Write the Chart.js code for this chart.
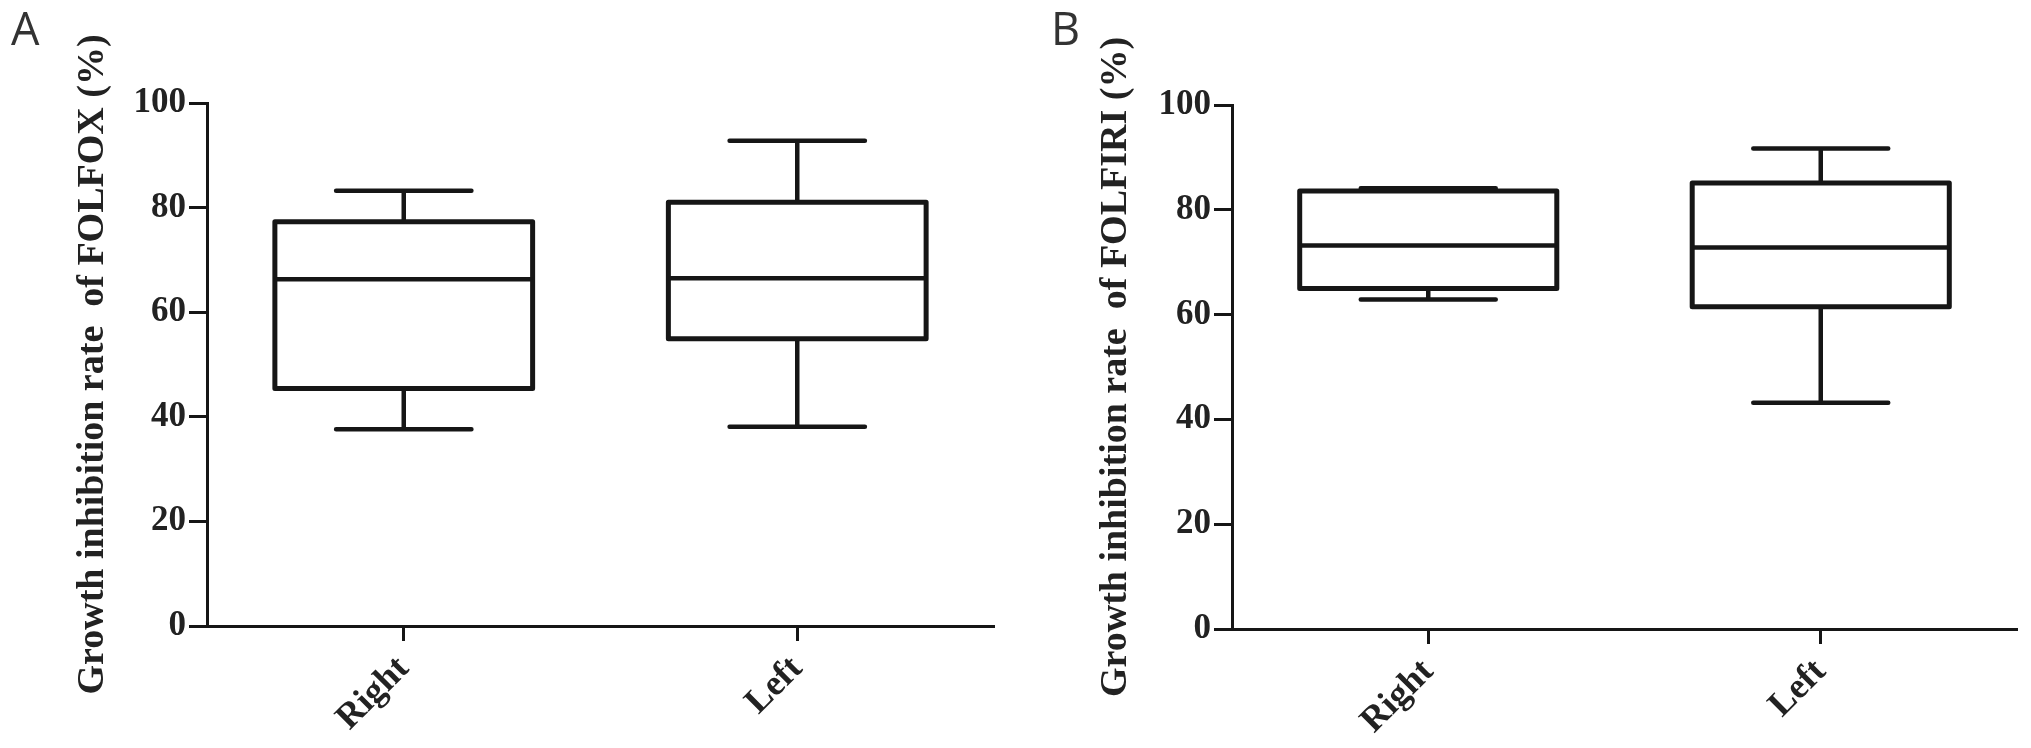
<!DOCTYPE html>
<html>
<head>
<meta charset="utf-8">
<script src="https://cdn.jsdelivr.net/npm/chart.js@4.4.1/dist/chart.umd.min.js"></script>
<style>
   html, body { margin: 0; padding: 0; background: #fff; }
   body { width: 2031px; height: 748px; position: relative; overflow: hidden; }
   .panel { position: absolute; top: 0; height: 748px; }
   .letter { position: absolute; top: 5px; font: 400 45px 'Open Sans', sans-serif; line-height: 45px; color: #333; }
</style>
</head>
<body>
<div class="panel" style="left:0;width:1010px"><canvas id="chartA"></canvas></div>
<div class="panel" style="left:1016px;width:1015px"><canvas id="chartB"></canvas></div>
<div class="letter" style="left:11px">A</div>
<div class="letter" style="left:1051px">B</div>
<script>
const categories = ['Right', 'Left']
const yTicks = [0, 20, 40, 60, 80, 100]

// FOLFOX (panel A)
const folfoxMin = [37.6, 38.1]
const folfoxQ1 = [45.4, 54.9]
const folfoxMedian = [66.3, 66.5]
const folfoxQ3 = [77.3, 81.0]
const folfoxMax = [83.2, 92.8]

// FOLFIRI (panel B)
const folfiriMin = [62.9, 43.2]
const folfiriQ1 = [65.0, 61.5]
const folfiriMedian = [73.2, 72.8]
const folfiriQ3 = [83.6, 85.1]
const folfiriMax = [84.1, 91.7]

const ink = '#161616'
const serif = "'Liberation Serif', 'Times New Roman', serif"

// draws box outline, median, whiskers and caps over the floating bars
const boxPlot = {
   id: 'boxPlot',
   afterDatasetsDraw: (chart, args, opts) => {
      const { ctx } = chart
      const y = chart.scales.y
      const meta = chart.getDatasetMeta(0)
      ctx.save()
      ctx.strokeStyle = ink
      meta.data.forEach((bar, i) => {
         const half = bar.width / 2
         const capHalf = half * opts.cap
         const yMin = y.getPixelForValue(opts.min[i])
         const yQ1 = y.getPixelForValue(opts.q1[i])
         const yMed = y.getPixelForValue(opts.median[i])
         const yQ3 = y.getPixelForValue(opts.q3[i])
         const yMax = y.getPixelForValue(opts.max[i])

         ctx.lineCap = 'round'
         ctx.lineWidth = 4.5
         ctx.beginPath()
         ctx.moveTo(bar.x, yQ3)
         ctx.lineTo(bar.x, yMax)
         ctx.moveTo(bar.x - capHalf, yMax)
         ctx.lineTo(bar.x + capHalf, yMax)
         ctx.moveTo(bar.x, yQ1)
         ctx.lineTo(bar.x, yMin)
         ctx.moveTo(bar.x - capHalf, yMin)
         ctx.lineTo(bar.x + capHalf, yMin)
         ctx.stroke()

         ctx.fillStyle = '#fff'
         ctx.fillRect(bar.x - half, yQ3, bar.width, yQ1 - yQ3)
         ctx.lineJoin = 'round'
         ctx.lineWidth = 5
         ctx.strokeRect(bar.x - half, yQ3, bar.width, yQ1 - yQ3)

         ctx.lineWidth = 4.5
         ctx.lineCap = 'butt'
         ctx.beginPath()
         ctx.moveTo(bar.x - half, yMed)
         ctx.lineTo(bar.x + half, yMed)
         ctx.stroke()
      })
      ctx.restore()
   }
}

const makeBox = (element, title, stats, frame) => {
   const ctx = document.getElementById(element).getContext('2d')
   return new Chart(ctx, {
      type: 'bar',
      data: {
         labels: categories,
         datasets: [{
            data: stats.q1.map((v, i) => [v, stats.q3[i]]),
            backgroundColor: 'rgba(0,0,0,0)',
            borderWidth: 0,
            barPercentage: 0.655,
            categoryPercentage: 1
         }]
      },
      options: {
         responsive: true,
         maintainAspectRatio: false,
         animation: false,
         layout: { padding: { top: frame.top, right: frame.right, left: 0, bottom: 0 } },
         plugins: {
            legend: { display: false },
            tooltip: { enabled: false },
            boxPlot: { ...stats, cap: 0.525 }
         },
         scales: {
            x: {
               offset: true,
               afterFit: scale => { scale.height = frame.xHeight },
               grid: {
                  display: true,
                  drawOnChartArea: false,
                  offset: false,
                  tickLength: 15,
                  tickWidth: 3,
                  color: ink
               },
               border: { display: true, width: 3, color: ink },
               ticks: {
                  minRotation: 45,
                  maxRotation: 45,
                  padding: 7,
                  color: '#222',
                  font: { family: serif, size: 36, weight: 'bold' }
               }
            },
            y: {
               min: 0,
               max: 100,
               afterFit: scale => { scale.width = frame.yWidth },
               afterBuildTicks: scale => { scale.ticks = yTicks.map(v => ({ value: v })) },
               grid: {
                  display: true,
                  drawOnChartArea: false,
                  tickLength: 18,
                  tickWidth: 3,
                  color: ink
               },
               border: { display: true, width: 3, color: ink },
               ticks: {
                  padding: 3,
                  color: '#222',
                  font: { family: serif, size: 35, weight: 'bold' }
               },
               title: {
                  display: true,
                  text: title,
                  color: '#222',
                  padding: { top: frame.titlePad, bottom: 0 },
                  font: { family: serif, size: 38, weight: 'bold' }
               }
            }
         }
      },
      plugins: [boxPlot]
   })
}

makeBox('chartA', 'Growth inhibition rate  of FOLFOX (%)', {
   min: folfoxMin, q1: folfoxQ1, median: folfoxMedian, q3: folfoxQ3, max: folfoxMax
}, { top: 103, right: 16, yWidth: 207, xHeight: 122, titlePad: 70 })

makeBox('chartB', 'Growth inhibition rate  of FOLFIRI (%)', {
   min: folfiriMin, q1: folfiriQ1, median: folfiriMedian, q3: folfiriQ3, max: folfiriMax
}, { top: 105, right: 14, yWidth: 216, xHeight: 119, titlePad: 77 })
</script>
</body>
</html>
